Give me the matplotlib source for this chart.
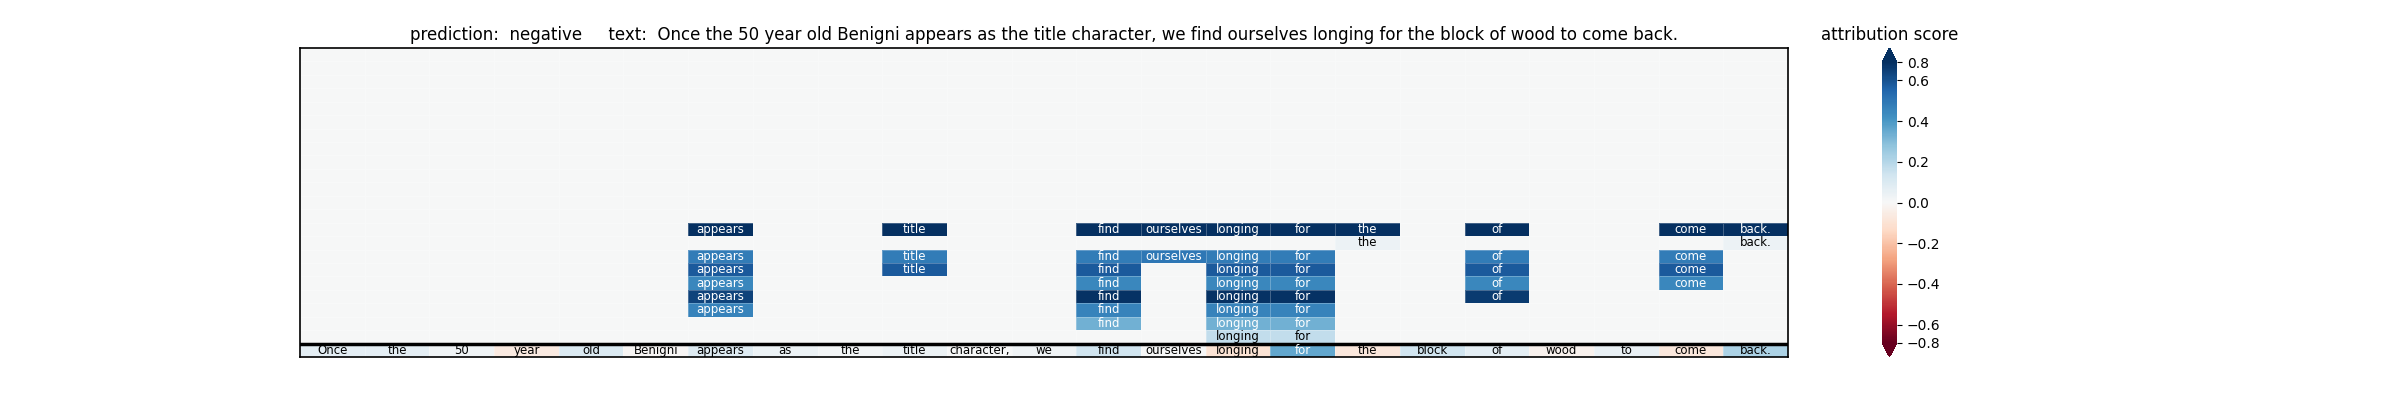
import numpy as np
import matplotlib
matplotlib.use('Agg')
from matplotlib import pyplot as plt

tokens = ['Once', 'the', '50', 'year', 'old', 'Benigni', 'appears', 'as', 'the', 'title',
          'character,', 'we', 'find', 'ourselves', 'longing', 'for', 'the', 'block', 'of',
          'wood', 'to', 'come', 'back.']
prediction = 'negative'

# attribution of the input sentence (bottom row)
sentence_scores = [0.07, 0.07, 0.03, -0.06, 0.10, -0.01, 0.09, 0.04, 0.02, 0.04,
                   0.0, 0.03, 0.14, 0.0, -0.10, 0.36, -0.08, 0.14, 0.07, -0.03,
                   0.05, -0.08, 0.22]

# rows above the sentence, top to bottom: which tokens are kept and their scores
kept_rows = [
    [6, 9, 12, 13, 14, 15, 16, 18, 21, 22],
    [16, 22],
    [6, 9, 12, 13, 14, 15, 18, 21],
    [6, 9, 12, 14, 15, 18, 21],
    [6, 12, 14, 15, 18, 21],
    [6, 12, 14, 15, 18],
    [6, 12, 14, 15],
    [12, 14, 15],
    [14, 15],
]
kept_scores = [
    [0.8, 0.8, 0.8, 0.8, 0.8, 0.8, 0.8, 0.8, 0.8, 0.8],
    [0.04, 0.04],
    [0.48, 0.48, 0.48, 0.5, 0.48, 0.48, 0.48, 0.48],
    [0.58, 0.58, 0.58, 0.58, 0.58, 0.58, 0.58],
    [0.45, 0.45, 0.45, 0.45, 0.45, 0.45],
    [0.64, 0.68, 0.68, 0.68, 0.66],
    [0.46, 0.46, 0.46, 0.46],
    [0.33, 0.33, 0.33],
    [0.17, 0.17],
]

cbar_ticks = [-0.69, -0.6, -0.4, -0.2, 0.0, 0.2, 0.4, 0.6, 0.69]
cbar_labels = ['\u22120.8', '\u22120.6', '\u22120.4', '\u22120.2', '0.0', '0.2', '0.4', '0.6', '0.8']

n = len(tokens)
vmax = 0.69
M = np.zeros((n, n))
labels = np.full((n, n), '', dtype=object)
first = n - 1 - len(kept_rows)
for i, (cols, vals) in enumerate(zip(kept_rows, kept_scores)):
    r = first + i
    for c, v in zip(cols, vals):
        M[r, c] = v
        labels[r, c] = tokens[c]
M[n - 1] = sentence_scores
labels[n - 1] = tokens

fig = plt.figure(figsize=(24, 4), dpi=100)
ax = fig.add_axes([0.125, 0.1075, 0.62, 0.7725])
cmap = plt.get_cmap('RdBu')
mesh = ax.pcolormesh(np.arange(n + 1) - 0.5, np.arange(n + 1) - 0.5, M, cmap=cmap,
                     vmin=-vmax, vmax=vmax, edgecolors=(1, 1, 1, 0.25), linewidth=0.5)
ax.set_xlim(-0.5, n - 0.5)
ax.set_ylim(n - 0.5, -0.5)
ax.set_facecolor(cmap(0.5))
for r in range(n):
    for c in range(n):
        if labels[r, c]:
            col = 'white' if abs(M[r, c]) > 0.3 else 'black'
            ax.text(c, r, labels[r, c], ha='center', va='center', fontsize=8.5, color=col)
ax.axhline(n - 1.5, color='black', linewidth=2.5)
ax.set_xticks([])
ax.set_yticks([])
for s in ax.spines.values():
    s.set_linewidth(1.2)
ax.set_title('prediction:  ' + prediction + '     text:  ' + ' '.join(tokens), fontsize=12)

cax = fig.add_axes([1882 / 2400, 0.1075, 15 / 2400, 0.7725])
cb = fig.colorbar(mesh, cax=cax, extend='both')
cb.set_ticks(cbar_ticks)
cb.set_ticklabels(cbar_labels)
cb.outline.set_visible(False)
cax.set_title('attribution score', fontsize=12)

fig.savefig('out.png', dpi=100)
